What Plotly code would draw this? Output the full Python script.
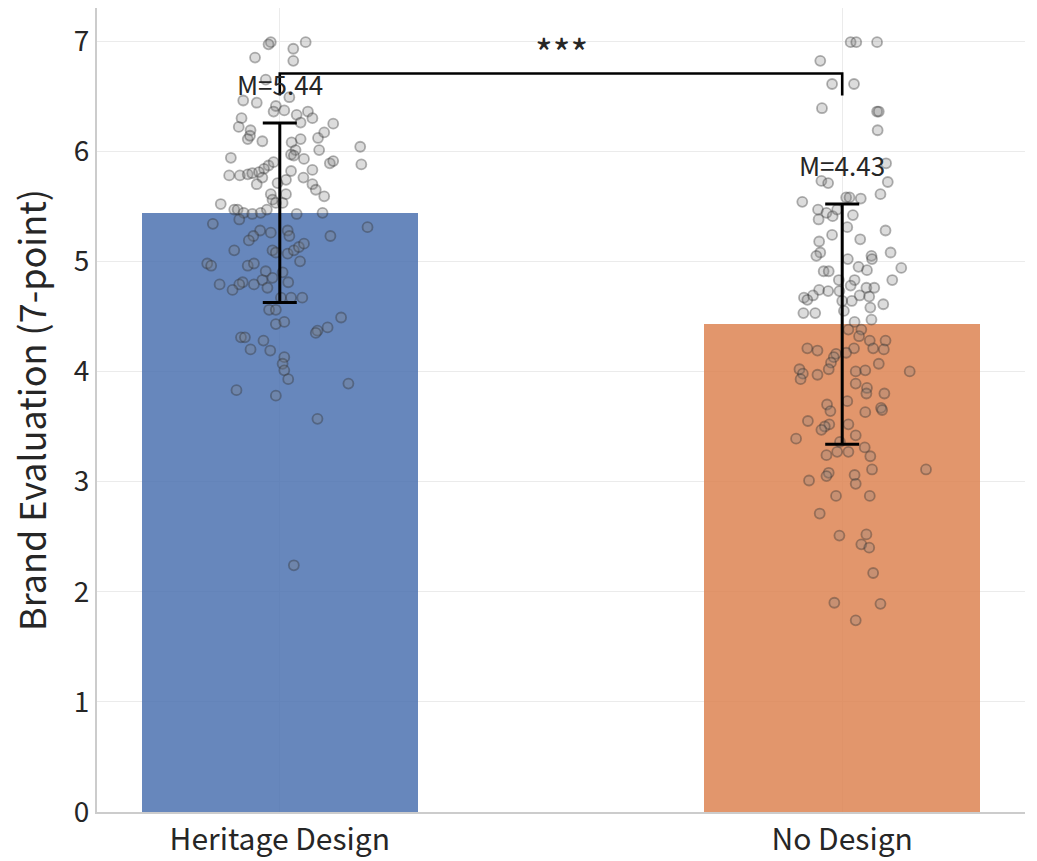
import plotly.graph_objects as go

categories = ["Heritage Design", "No Design"]
means = [5.44, 4.43]
sds = [0.815, 1.09]
significance = "***"

heritage_values = [6.99, 6.97, 6.93, 6.99, 6.85, 6.82, 6.65, 6.46, 6.44, 6.41, 6.36, 6.37, 6.49, 6.33, 6.36, 6.30,
                   6.30, 6.22, 6.19, 6.26, 6.25, 6.11, 6.09, 6.14, 6.11, 6.08, 6.12, 6.17, 6.01, 6.01, 6.04, 5.88,
                   5.94, 5.87, 5.90, 5.97, 5.96, 5.93, 5.84, 5.82, 5.83, 5.89, 5.91, 5.78, 5.78, 5.79, 5.80, 5.81,
                   5.76, 5.70, 5.71, 5.74, 5.76, 5.70, 5.65, 5.59, 5.61, 5.56, 5.61, 5.53, 5.53, 5.52, 5.47, 5.47,
                   5.44, 5.43, 5.44, 5.47, 5.43, 5.44, 5.34, 5.38, 5.31, 5.23, 5.28, 5.23, 5.19, 5.26, 5.28, 5.23,
                   5.10, 5.10, 5.08, 5.07, 5.10, 5.13, 5.16, 5.00, 4.98, 4.96, 4.96, 4.98, 4.91, 4.90, 4.85, 4.83,
                   4.81, 4.79, 4.79, 4.74, 4.79, 4.76, 4.81, 4.67, 4.67, 4.67, 4.56, 4.56, 4.49, 4.40, 4.37, 4.35,
                   4.43, 4.45, 4.31, 4.31, 4.28, 4.20, 4.19, 4.13, 4.07, 4.01, 3.93, 3.89, 3.83, 3.78, 3.57, 2.24]
heritage_jitter = [-0.016, -0.020, 0.024, 0.046, -0.044, 0.024, -0.025, -0.065, -0.041, -0.007, -0.011, 0.008, 0.017, 0.030, 0.050, 0.058,
                   -0.068, -0.073, -0.052, 0.037, 0.095, -0.057, -0.031, -0.053, 0.037, 0.021, 0.068, 0.079, 0.070, 0.028, 0.143, 0.145,
                   -0.087, -0.020, -0.011, 0.020, 0.025, 0.043, -0.028, 0.020, 0.058, 0.089, 0.095, -0.090, -0.071, -0.057, -0.049, -0.037,
                   -0.031, -0.041, -0.004, 0.011, 0.042, 0.058, 0.064, 0.079, -0.016, -0.013, 0.011, -0.007, 0.005, -0.105, -0.081, -0.075,
                   -0.064, -0.049, -0.034, -0.023, 0.030, 0.076, -0.119, -0.072, 0.156, 0.090, -0.035, -0.047, -0.055, -0.016, 0.014, 0.017,
                   -0.081, -0.013, -0.007, 0.014, 0.025, 0.034, 0.043, 0.036, -0.129, -0.122, -0.057, -0.046, -0.025, 0.005, -0.013, -0.031,
                   -0.066, -0.072, -0.107, -0.084, -0.046, -0.022, 0.015, 0.002, 0.020, 0.040, -0.019, -0.007, 0.109, 0.085, 0.067, 0.064,
                   -0.007, 0.008, -0.069, -0.062, -0.029, -0.052, -0.017, 0.008, 0.005, 0.008, 0.015, 0.122, -0.077, -0.007, 0.067, 0.025]

nodesign_values = [6.99, 6.99, 6.99, 6.82, 6.61, 6.61, 6.39, 6.36, 6.36, 6.19, 5.89, 5.73, 5.71, 5.72, 5.61, 5.54,
                   5.58, 5.58, 5.57, 5.47, 5.44, 5.41, 5.42, 5.47, 5.38, 5.31, 5.28, 5.24, 5.20, 5.18, 5.08, 5.05,
                   5.08, 5.05, 5.02, 5.02, 4.94, 4.95, 4.92, 4.91, 4.91, 4.83, 4.83, 4.83, 4.78, 4.76, 4.76, 4.74,
                   4.73, 4.73, 4.69, 4.69, 4.68, 4.67, 4.65, 4.64, 4.64, 4.58, 4.61, 4.53, 4.53, 4.55, 4.47, 4.45,
                   4.38, 4.38, 4.32, 4.28, 4.28, 4.21, 4.19, 4.21, 4.21, 4.20, 4.17, 4.16, 4.13, 4.08, 4.07, 4.02,
                   4.02, 4.00, 4.01, 4.00, 3.98, 3.97, 3.93, 3.89, 3.85, 3.80, 3.80, 3.73, 3.67, 3.65, 3.70, 3.64,
                   3.63, 3.55, 3.52, 3.50, 3.47, 3.52, 3.42, 3.39, 3.36, 3.31, 3.24, 3.27, 3.27, 3.23, 3.11, 3.11,
                   3.08, 3.05, 3.06, 2.98, 3.01, 2.87, 2.87, 2.71, 2.51, 2.52, 2.43, 2.40, 2.17, 1.90, 1.89, 1.74]
nodesign_jitter = [0.015, 0.025, 0.062, -0.039, -0.018, 0.021, -0.036, 0.062, 0.065, 0.063, 0.078, -0.037, -0.025, 0.081, 0.068, -0.071,
                   0.007, 0.013, 0.033, -0.043, -0.028, -0.017, 0.019, -0.009, -0.042, 0.009, 0.077, -0.018, 0.032, -0.041, -0.039, -0.046,
                   0.086, 0.052, 0.053, 0.010, 0.105, 0.029, 0.044, -0.033, -0.024, 0.089, -0.006, 0.022, 0.015, 0.043, 0.057, -0.041,
                   -0.025, -0.005, -0.052, 0.031, 0.048, -0.068, -0.062, 0.000, 0.017, 0.050, 0.073, -0.069, -0.048, 0.003, 0.052, 0.022,
                   0.011, 0.034, 0.030, 0.049, 0.077, -0.062, -0.044, 0.021, 0.055, 0.074, 0.007, -0.011, -0.015, -0.020, 0.065, -0.076,
                   -0.024, 0.024, 0.041, 0.120, -0.070, -0.044, -0.074, 0.024, 0.044, 0.075, 0.043, 0.009, 0.069, 0.071, -0.027, -0.021,
                   0.041, -0.061, -0.023, -0.031, -0.037, 0.011, 0.024, -0.082, -0.004, 0.040, -0.028, -0.009, 0.011, 0.050, 0.053, 0.149,
                   -0.024, -0.028, 0.022, 0.024, -0.059, -0.011, 0.049, -0.040, -0.005, 0.043, 0.034, 0.048, 0.055, -0.014, 0.068, 0.024]

FONT = "Noto Sans CJK SC"
TEXT = "#262626"
bar_colors = ["rgba(76,114,176,0.85)", "rgba(221,132,82,0.85)"]

xpos = list(range(len(categories)))
fig = go.Figure()

fig.add_trace(go.Bar(x=xpos, y=means, width=0.49, marker=dict(color=bar_colors, line=dict(width=0)),
                     showlegend=False, hoverinfo="skip"))

groups = [(heritage_values, heritage_jitter), (nodesign_values, nodesign_jitter)]
for i, (vals, jit) in enumerate(groups):
    fig.add_trace(go.Scatter(
        x=[xpos[i] + j for j in jit], y=vals, mode="markers",
        marker=dict(size=10, color="rgba(128,128,128,0.28)",
                    line=dict(color="rgba(45,45,45,0.36)", width=1.8)),
        showlegend=False, hoverinfo="skip"))

fig.add_trace(go.Scatter(
    x=xpos, y=means, mode="markers", marker=dict(size=1, color="rgba(0,0,0,0)"),
    error_y=dict(type="data", array=sds, visible=True, color="black", thickness=3, width=17),
    showlegend=False, hoverinfo="skip"))

# significance bracket
tops = [m + s for m, s in zip(means, sds)]
bracket_top = max(tops) + 0.45
bracket_bottom = bracket_top - 0.2
fig.add_trace(go.Scatter(
    x=[xpos[0], xpos[0], xpos[1], xpos[1]],
    y=[bracket_bottom, bracket_top, bracket_top, bracket_bottom],
    mode="lines", line=dict(color="black", width=2.6), showlegend=False, hoverinfo="skip"))

fig.add_annotation(x=(xpos[0] + xpos[1]) / 2, y=bracket_top - 0.07, text=significance,
                   showarrow=False, yanchor="bottom", font=dict(family=FONT, size=38, color=TEXT))

for i, m in enumerate(means):
    fig.add_annotation(x=xpos[i], y=tops[i] + 0.36, text=f"M={m:.2f}", showarrow=False,
                       font=dict(family=FONT, size=26, color=TEXT))

fig.update_layout(
    width=1037, height=861,
    margin=dict(l=97, r=12, t=8, b=49),
    plot_bgcolor="white", paper_bgcolor="white",
    font=dict(family=FONT, color=TEXT),
    bargap=0,
)
fig.update_xaxes(range=[-0.325, 1.325], tickvals=xpos, ticktext=categories, automargin=False,
                 showgrid=True, gridcolor="#ebebeb", gridwidth=1,
                 showline=True, linecolor="#cccccc", linewidth=2,
                 tickfont=dict(family=FONT, size=30, color=TEXT), ticks="", zeroline=False)
fig.update_yaxes(range=[0, 7.3], tickvals=list(range(0, 8)), automargin=False,
                 showgrid=True, gridcolor="#ebebeb", gridwidth=1,
                 showline=True, linecolor="#cccccc", linewidth=2,
                 tickfont=dict(family=FONT, size=28, color=TEXT), ticks="", zeroline=False,
                 title=dict(text="Brand Evaluation (7-point)", font=dict(family=FONT, size=36, color=TEXT), standoff=16))

fig.write_html("out.html")
